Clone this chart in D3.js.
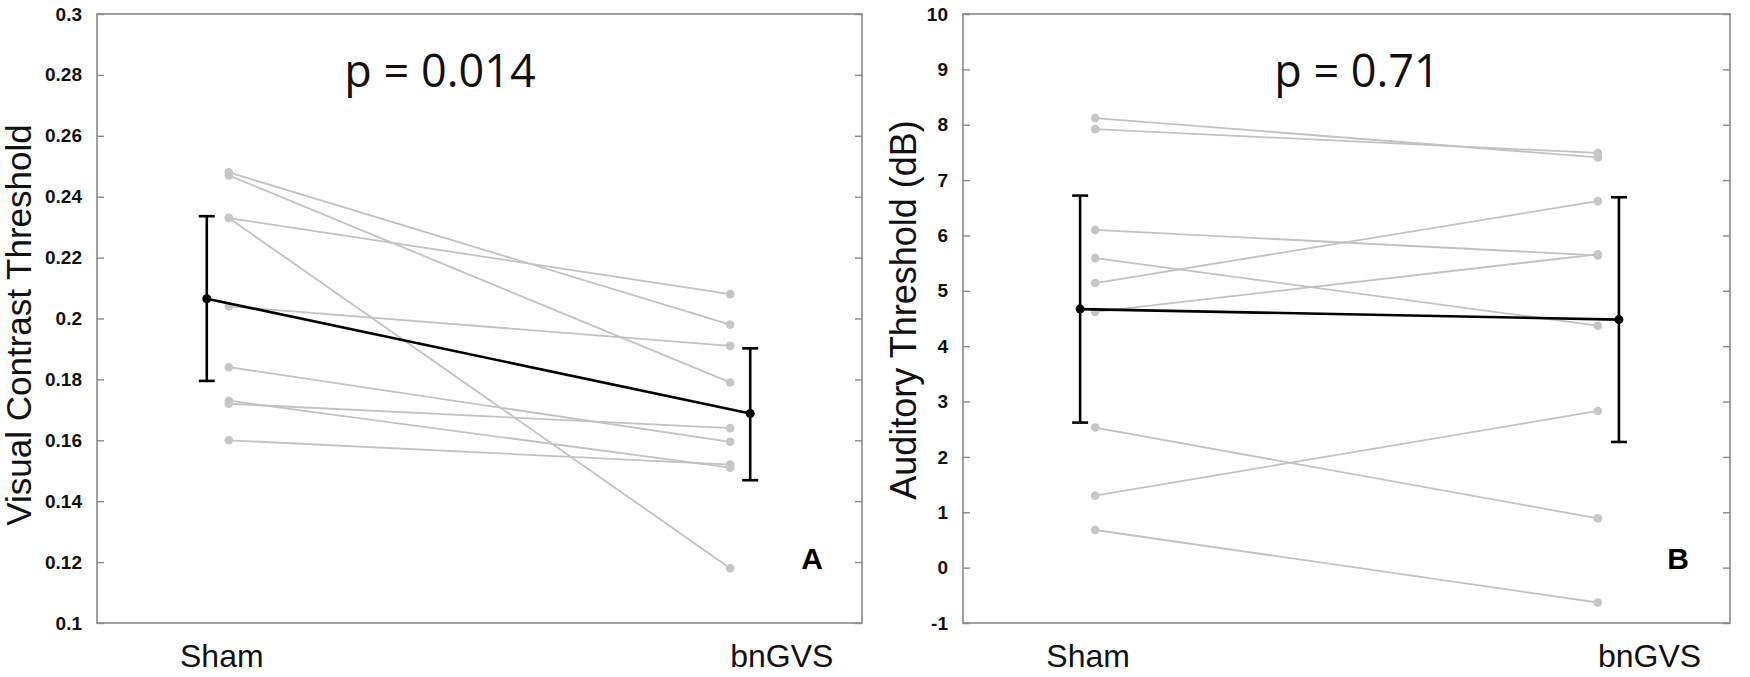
<!DOCTYPE html>
<html>
<head>
<meta charset="utf-8">
<script src="https://cdn.jsdelivr.net/npm/d3@7"></script>
<style>
  html, body { margin: 0; padding: 0; background: #fff; }
  svg { display: block; }
</style>
</head>
<body>
<svg id="chart" width="1750" height="677"></svg>
<script>
// ---------------- data ----------------
const categories = ["Sham", "bnGVS"];

// Panel A: visual contrast threshold (one entry per subject)
const visualSham  = [0.248, 0.247, 0.233, 0.233, 0.204, 0.184, 0.173, 0.172, 0.160];
const visualBnGVS = [0.198, 0.179, 0.208, 0.118, 0.191, 0.1595, 0.151, 0.164, 0.152];
const visualMean  = [0.2065, 0.1688];
const visualLow   = [0.1795, 0.1469];
const visualHigh  = [0.2336, 0.1902];
const visualTicks = [0.1, 0.12, 0.14, 0.16, 0.18, 0.2, 0.22, 0.24, 0.26, 0.28, 0.3];
const visualTickLabels = ["0.1","0.12","0.14","0.16","0.18","0.2","0.22","0.24","0.26","0.28","0.3"];

// Panel B: auditory threshold (dB)
const audSham  = [8.12, 7.92, 6.10, 5.59, 5.14, 4.62, 2.53, 1.30, 0.68];
const audBnGVS = [7.41, 7.49, 5.64, 4.37, 6.62, 5.66, 0.89, 2.83, -0.63];
const audMean  = [4.67, 4.48];
const audLow   = [2.62, 2.27];
const audHigh  = [6.72, 6.69];
const audTicks = [-1, 0, 1, 2, 3, 4, 5, 6, 7, 8, 9, 10];
const audTickLabels = ["-1","0","1","2","3","4","5","6","7","8","9","10"];

const pValues = ["p = 0.014", "p = 0.71"];
const panelLetters = ["A", "B"];
const yLabels = ["Visual Contrast Threshold", "Auditory Threshold (dB)"];

// ---------------- drawing ----------------
const svg = d3.select("#chart");

function drawPanel(cfg) {
  const g = svg.append("g");
  const x = d3.scaleLinear().domain([0.737, 2.263]).range([cfg.left, cfg.right]);
  const y = d3.scaleLinear().domain(cfg.domain).range([cfg.bottom, cfg.top]);
  const xPts = [1, 2];
  const xMean = [1 - cfg.meanOff[0], 2 + cfg.meanOff[1]];
  const xLab = [0.986, 2.103];

  // box
  g.append("rect")
    .attr("x", cfg.left).attr("y", cfg.top)
    .attr("width", cfg.right - cfg.left).attr("height", cfg.bottom - cfg.top)
    .attr("fill", "none").attr("stroke", "#8a8a8a").attr("stroke-width", 1.6);

  // left axis with inward ticks
  const yAxis = d3.axisLeft(y).tickValues(cfg.ticks)
    .tickFormat((d, i) => cfg.tickLabels[i]).tickSize(-7).tickPadding(15);
  const ax = g.append("g").attr("transform", `translate(${cfg.left},0)`).call(yAxis);
  ax.select(".domain").remove();
  ax.selectAll(".tick line").attr("stroke", "#8a8a8a").attr("stroke-width", 1.4);
  ax.selectAll(".tick text")
    .attr("font-family", "Liberation Sans, Arial, sans-serif")
    .attr("font-weight", "bold").attr("font-size", 19).attr("fill", "#111");

  // right side inward ticks
  const yAxisR = d3.axisRight(y).tickValues(cfg.ticks).tickFormat("").tickSize(-7);
  const axR = g.append("g").attr("transform", `translate(${cfg.right},0)`).call(yAxisR);
  axR.select(".domain").remove();
  axR.selectAll(".tick line").attr("stroke", "#8a8a8a").attr("stroke-width", 1.4);

  // subject lines
  const pairs = cfg.sham.map((v, i) => [v, cfg.bn[i]]);
  g.append("g").selectAll("line").data(pairs).join("line")
    .attr("x1", x(xPts[0])).attr("x2", x(xPts[1]))
    .attr("y1", d => y(d[0])).attr("y2", d => y(d[1]))
    .attr("stroke", "#c2c2c2").attr("stroke-width", 1.8);
  const pts = [];
  pairs.forEach(p => { pts.push([xPts[0], p[0]]); pts.push([xPts[1], p[1]]); });
  g.append("g").selectAll("circle").data(pts).join("circle")
    .attr("cx", d => x(d[0])).attr("cy", d => y(d[1])).attr("r", 4.3)
    .attr("fill", "#c6c6c6");

  // mean line
  g.append("line")
    .attr("x1", x(xMean[0])).attr("x2", x(xMean[1]))
    .attr("y1", y(cfg.mean[0])).attr("y2", y(cfg.mean[1]))
    .attr("stroke", "#000").attr("stroke-width", 2.6);

  // error bars
  [0, 1].forEach(i => {
    const cx = x(xMean[i]);
    g.append("line").attr("x1", cx).attr("x2", cx)
      .attr("y1", y(cfg.low[i])).attr("y2", y(cfg.high[i]))
      .attr("stroke", "#000").attr("stroke-width", 2.6);
    [cfg.low[i], cfg.high[i]].forEach(v => {
      g.append("line").attr("x1", cx - 8).attr("x2", cx + 8)
        .attr("y1", y(v)).attr("y2", y(v))
        .attr("stroke", "#000").attr("stroke-width", 2.6);
    });
    g.append("circle").attr("cx", cx).attr("cy", y(cfg.mean[i])).attr("r", 4.5).attr("fill", "#000");
  });

  // category labels
  categories.forEach((c, i) => {
    g.append("text").attr("x", x(xLab[i])).attr("y", 667)
      .attr("text-anchor", "middle")
      .attr("font-family", "Liberation Sans, Arial, sans-serif")
      .attr("font-size", 32).attr("fill", "#111").text(c);
  });

  // y label
  g.append("text")
    .attr("transform", `translate(${cfg.ylabX},${cfg.ylabY}) rotate(-90)`)
    .attr("text-anchor", "middle")
    .attr("font-family", "Liberation Sans, Arial, sans-serif")
    .attr("font-size", cfg.ylabSize).attr("fill", "#111").text(cfg.ylabel);

  // p value
  g.append("text")
    .attr("x", cfg.pX).attr("y", 87)
    .attr("text-anchor", "middle")
    .attr("font-family", "Open Sans, sans-serif")
    .attr("font-size", 45).attr("fill", "#111")
    .text(cfg.p);

  // panel letter
  g.append("text").attr("x", cfg.letterX).attr("y", 569)
    .attr("text-anchor", "middle")
    .attr("font-family", "Liberation Sans, Arial, sans-serif")
    .attr("font-weight", "bold").attr("font-size", 30).attr("fill", "#000")
    .text(cfg.letter);
}

drawPanel({
  left: 97, right: 862, top: 14, bottom: 623,
  domain: [0.1, 0.3], ticks: visualTicks, tickLabels: visualTickLabels,
  sham: visualSham, bn: visualBnGVS, mean: visualMean, low: visualLow, high: visualHigh,
  meanOff: [0.044, 0.04], ylabel: yLabels[0], ylabX: 31, ylabY: 325, ylabSize: 35,
  p: pValues[0], pX: 440, letter: panelLetters[0], letterX: 812
});

drawPanel({
  left: 963, right: 1730, top: 14, bottom: 623,
  domain: [-1, 10], ticks: audTicks, tickLabels: audTickLabels,
  sham: audSham, bn: audBnGVS, mean: audMean, low: audLow, high: audHigh,
  meanOff: [0.03, 0.042], ylabel: yLabels[1], ylabX: 916, ylabY: 310, ylabSize: 36,
  p: pValues[1], pX: 1357, letter: panelLetters[1], letterX: 1678
});
</script>
</body>
</html>
